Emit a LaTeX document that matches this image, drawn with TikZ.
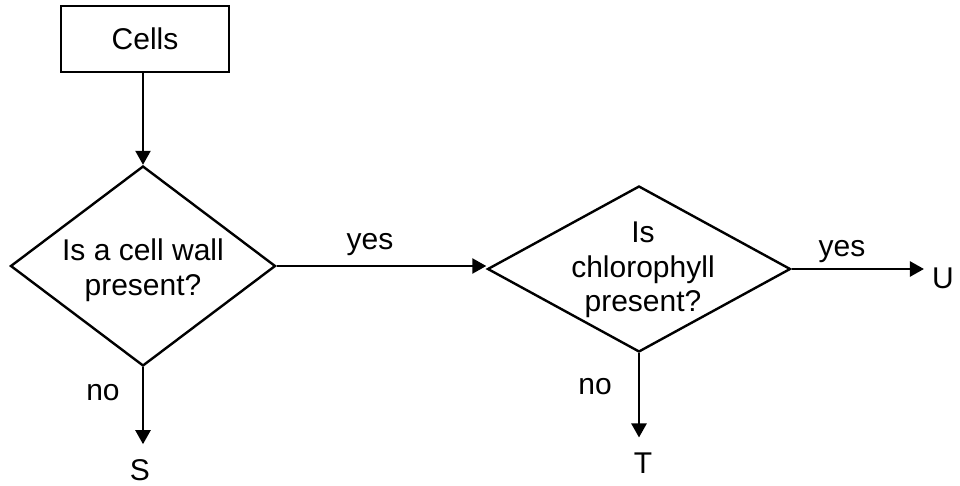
\documentclass[tikz,border=0pt]{standalone}
\usepackage{fontspec}
\setmainfont{Liberation Sans}
\usetikzlibrary{arrows.meta,shapes.geometric}
\tikzset{
  lbl/.style={font=\fontsize{30}{34.5}\selectfont, inner sep=0pt, align=center},
  boxnode/.style={draw, line width=2.4pt, minimum width=168pt, minimum height=66pt, inner sep=0pt, font=\fontsize{30}{34.5}\selectfont},
  dia/.style={draw, diamond, line width=2.4pt, inner sep=0pt},
  arr/.style={line width=2.4pt, -{Triangle[length=14pt,width=15pt]}},
}
\begin{document}
\begin{tikzpicture}[x=1pt,y=-1pt]
\useasboundingbox (0,0) rectangle (960,486);
\node[boxnode] (cells) at (145,39) {Cells};
\node[dia, minimum width=265pt, minimum height=200pt] (d1) at (143,266) {};
\node[lbl] (d1t) at (143,270) {Is a cell wall\\present?};
\node[dia, minimum width=303pt, minimum height=166pt] (d2) at (639,269) {};
\node[lbl] (d2t) at (643,270) {Is\\chlorophyll\\present?};
\node[lbl] (yes1) at (370,245) {yes};
\node[lbl] (yes2) at (842,252) {yes};
\node[lbl] (no1) at (103,393) {no};
\node[lbl] (no2) at (595,387) {no};
\node[lbl] (S) at (140,470) {S};
\node[lbl] (T) at (643,463) {T};
\node[lbl] (U) at (943,278) {U};
\draw[arr] (cells.south -| d1.north) -- (d1.north);
\draw[arr] (d1.east) -- (d1.east -| d2.west);
\draw[arr, shorten >=8pt] (d2.east) -- (d2.east -| U.west);
\draw[arr, shorten >=15pt] (d1.south) -- (d1.south |- S.north);
\draw[arr, shorten >=15pt] (d2.south) -- (d2.south |- T.north);
\end{tikzpicture}
\end{document}
